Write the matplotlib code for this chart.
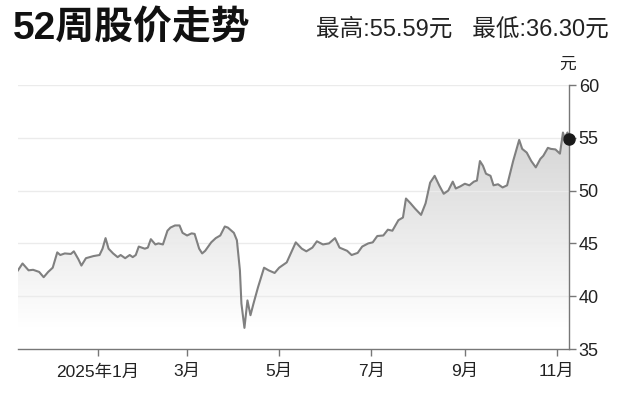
import numpy as np
import pandas as pd
import matplotlib
matplotlib.use("Agg")
import matplotlib.pyplot as plt
import matplotlib.dates as mdates
from matplotlib.colors import LinearSegmentedColormap

plt.rcParams['font.family'] = ['Liberation Sans', 'Noto Sans CJK SC', 'DejaVu Sans']

dates = ['2024-11-09', '2024-11-12', '2024-11-16', '2024-11-19', '2024-11-23', '2024-11-26',
         '2024-11-29', '2024-12-02', '2024-12-05', '2024-12-07', '2024-12-10', '2024-12-14',
         '2024-12-16', '2024-12-19', '2024-12-21', '2024-12-24', '2024-12-29', '2025-01-02',
         '2025-01-04', '2025-01-06', '2025-01-08', '2025-01-11', '2025-01-14', '2025-01-16',
         '2025-01-19', '2025-01-22', '2025-01-24', '2025-01-26', '2025-01-28', '2025-02-01',
         '2025-02-03', '2025-02-05', '2025-02-08', '2025-02-10', '2025-02-13', '2025-02-16',
         '2025-02-18', '2025-02-21', '2025-02-24', '2025-02-26', '2025-03-01', '2025-03-04',
         '2025-03-06', '2025-03-09', '2025-03-11', '2025-03-13', '2025-03-17', '2025-03-20',
         '2025-03-23', '2025-03-26', '2025-03-28', '2025-04-01', '2025-04-03', '2025-04-05',
         '2025-04-06', '2025-04-08', '2025-04-10', '2025-04-12', '2025-04-14', '2025-04-17',
         '2025-04-21', '2025-04-24', '2025-04-28', '2025-05-01', '2025-05-06', '2025-05-09',
         '2025-05-12', '2025-05-16', '2025-05-19', '2025-05-23', '2025-05-26', '2025-05-30',
         '2025-06-03', '2025-06-07', '2025-06-10', '2025-06-15', '2025-06-18', '2025-06-22',
         '2025-06-25', '2025-06-29', '2025-07-02', '2025-07-05', '2025-07-09', '2025-07-12',
         '2025-07-15', '2025-07-19', '2025-07-22', '2025-07-24', '2025-07-27', '2025-07-30',
         '2025-08-03', '2025-08-06', '2025-08-09', '2025-08-12', '2025-08-15', '2025-08-18',
         '2025-08-21', '2025-08-24', '2025-08-26', '2025-08-29', '2025-09-01', '2025-09-04',
         '2025-09-07', '2025-09-09', '2025-09-11', '2025-09-13', '2025-09-15', '2025-09-18',
         '2025-09-20', '2025-09-23', '2025-09-26', '2025-09-29', '2025-10-03', '2025-10-05',
         '2025-10-07', '2025-10-09', '2025-10-12', '2025-10-15', '2025-10-18', '2025-10-21',
         '2025-10-23', '2025-10-26', '2025-10-28', '2025-10-31', '2025-11-03', '2025-11-05',
         '2025-11-06', '2025-11-08', '2025-11-09']
prices = [42.45, 43.1, 42.45, 42.5, 42.3, 41.8,
          42.3, 42.7, 44.15, 43.9, 44.05, 44.0,
          44.25, 43.5, 42.9, 43.6, 43.8, 43.9,
          44.5, 45.5, 44.5, 44.05, 43.7, 43.9,
          43.6, 43.9, 43.7, 43.9, 44.7, 44.5,
          44.6, 45.4, 44.9, 45.0, 44.9, 46.2,
          46.5, 46.7, 46.7, 46.0, 45.75, 45.95,
          45.9, 44.5, 44.05, 44.3, 45.1, 45.5,
          45.75, 46.6, 46.5, 46.0, 45.3, 42.45,
          39.3, 37.0, 39.6, 38.2, 39.3, 40.85,
          42.7, 42.45, 42.2, 42.7, 43.2, 44.15,
          45.1, 44.5, 44.25, 44.6, 45.2, 44.9,
          45.0, 45.5, 44.6, 44.3, 43.9, 44.1,
          44.7, 45.0, 45.1, 45.7, 45.75, 46.3,
          46.2, 47.2, 47.45, 49.25, 48.8, 48.3,
          47.7, 48.8, 50.75, 51.4, 50.5, 49.7,
          50.0, 50.85, 50.2, 50.4, 50.65, 50.5,
          50.85, 50.95, 52.8, 52.35, 51.6, 51.4,
          50.5, 50.6, 50.3, 50.5, 52.8, 53.8,
          54.8, 53.95, 53.6, 52.8, 52.2, 53.0,
          53.3, 54.05, 53.95, 53.9, 53.5, 55.5,
          55.0, 55.5, 54.9]

tick_dates = ['2025-01-01', '2025-03-01', '2025-05-01', '2025-07-01', '2025-09-01', '2025-11-01']
tick_labels = ['2025年1月', '3月', '5月', '7月', '9月', '11月']
y_ticks = [35, 40, 45, 50, 55, 60]

x = mdates.date2num(pd.to_datetime(dates))
xt = mdates.date2num(pd.to_datetime(tick_dates))

fig = plt.figure(figsize=(6.23, 4.15), dpi=100)
ax = fig.add_axes([18 / 623, 66 / 415, 551 / 623, 264 / 415])

# gradient fill under the line
poly = ax.fill_between(x, prices, 35, facecolor='none', edgecolor='none')
cmap = LinearSegmentedColormap.from_list('g', ['#ffffff', '#d2d2d2'])
grad = np.linspace(35, 60, 256).reshape(-1, 1)
im = ax.imshow(grad, extent=[x[0], x[-1], 35, 60], origin='lower', aspect='auto',
               cmap=cmap, vmin=37, vmax=57, zorder=1)
im.set_clip_path(poly.get_paths()[0], transform=ax.transData)

for yv in y_ticks[1:]:
    ax.axhline(yv, color='#ebebeb', lw=1, zorder=2)

ax.plot(x, prices, color='#808080', lw=1.5, zorder=3)
ax.plot(x[-1], prices[-1], 'o', color='#1a1a1a', ms=8, zorder=5, clip_on=False)

ax.set_xlim(x[0], x[-1])
ax.set_ylim(35, 60)
ax.set_xticks(xt)
ax.set_xticklabels(tick_labels, fontsize=12.5)
ax.set_yticks(y_ticks)
ax.yaxis.tick_right()
ax.tick_params(axis='y', labelsize=13, length=5, width=1, color='#777777', pad=2, labelcolor='#222222')
ax.tick_params(axis='x', length=5, width=1, color='#777777', pad=6, labelcolor='#222222')
for s in ['left', 'top']:
    ax.spines[s].set_visible(False)
for s in ['right', 'bottom']:
    ax.spines[s].set_color('#777777')
    ax.spines[s].set_linewidth(1)

fig.text(13 / 623, 1 - 29 / 415, '52周股价走势', fontsize=28, fontweight='heavy',
         va='center', ha='left', color='#111111')
fig.text(609 / 623, 1 - 29 / 415, '最高:55.59元   最低:36.30元', fontsize=17,
         va='center', ha='right', color='#222222')
fig.text(568 / 623, 1 - 64 / 415, '元', fontsize=12, va='center', ha='center', color='#222222')

fig.savefig('out.png', dpi=100)
